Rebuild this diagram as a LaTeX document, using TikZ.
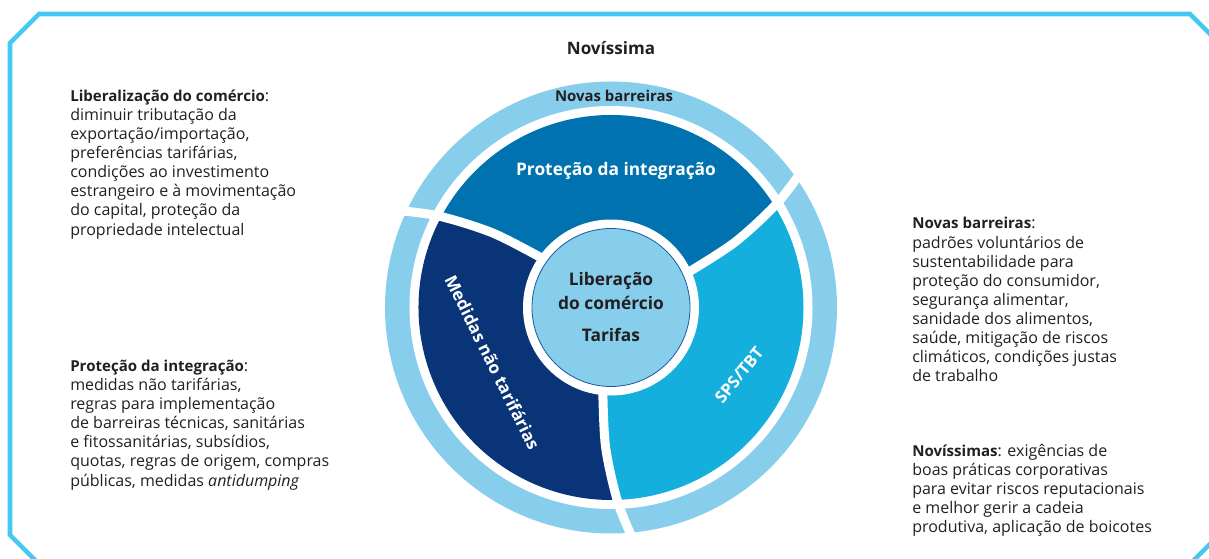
\documentclass[tikz,border=0pt]{standalone}
\usepackage{fontspec}
\setmainfont{Open Sans}
\usetikzlibrary{calc}
\definecolor{framec}{RGB}{68,200,242}
\definecolor{ringc}{RGB}{135,206,236}
\definecolor{protc}{RGB}{0,114,175}
\definecolor{medc}{RGB}{10,52,120}
\definecolor{spsc}{RGB}{20,175,221}
\definecolor{cenc}{RGB}{135,206,236}
\definecolor{cenb}{RGB}{20,90,160}
\definecolor{txt}{RGB}{35,31,32}
\newcommand\hdtext[1]{{\fontsize{11.3}{14.3}\selectfont\bfseries #1}}
\tikzset{
  body/.style={anchor=base west, align=left, inner sep=0pt, text=txt, font=\fontsize{12}{14.3}\selectfont},
  lab/.style={inner sep=0pt, font=\bfseries\fontsize{11}{13}\selectfont},
  gap/.style={white, line width=6.75pt, line join=round}
}
\begin{document}
\begin{tikzpicture}[x=0.75pt,y=0.75pt]
\useasboundingbox (0,0) rectangle (1209,558);
\clip (0,0) rectangle (1209,558);
% frame
\draw[framec, line width=3.4pt, line join=miter]
  (10,515) -- (39,544) -- (1190,544) -- (1219,515) -- (1219,23) -- (1190,-6) -- (39,-6) -- (10,23) -- cycle;
% wheel
\begin{scope}[shift={(611,250.5)}]
  \fill[ringc] (0,0) circle (226);
  \fill[white] (0,0) circle (201.5);
  \fill[protc] (0,0) -- (24:80) -- (27.8:140) -- (31.4:192.5) arc[start angle=31.4, end angle=151.4, radius=192.5] -- (147.8:140) -- (144:80) -- cycle;
  \fill[medc] (0,0) -- (144:80) -- (147.8:140) -- (151.4:192.5) arc[start angle=151.4, end angle=271.4, radius=192.5] -- (267.8:140) -- (264:80) -- cycle;
  \fill[spsc] (0,0) -- (264:80) -- (267.8:140) -- (271.4:192.5) arc[start angle=271.4, end angle=391.4, radius=192.5] -- (387.8:140) -- (384:80) -- cycle;
  \foreach \a in {0,120,240}{
    \draw[gap] plot[smooth] coordinates {(\a+23.5:70) (\a+24:80) (\a+27.8:140) (\a+32.1:196) (\a+36:240)};
  }
  \fill[white] (0,0) circle (88);
  \filldraw[fill=cenc, draw=cenb, line width=0.6pt] (0,0) circle (79);
\end{scope}
% labels in the wheel
\node[lab, text=txt, font=\bfseries\fontsize{12.8}{15}\selectfont] (novissima) at (611,510) {Novíssima};
\node[lab, text=txt, font=\bfseries\fontsize{11.2}{13}\selectfont] (novas) at (614,462) {Novas barreiras};
\node[lab, text=white, font=\bfseries\fontsize{13}{15}\selectfont] (prot) at (616,387) {Proteção da integração};
\node[lab, text=txt, font=\bfseries\fontsize{13}{16}\selectfont] (lib1) at (611,277) {Liberação};
\node[lab, text=txt, font=\bfseries\fontsize{13}{16}\selectfont] (lib2) at (611,255) {do comércio};
\node[lab, text=txt, font=\bfseries\fontsize{13}{16}\selectfont] (tar) at (611,223) {Tarifas};
\node[lab, text=white, rotate=-63.7, font=\bfseries\fontsize{12.8}{15}\selectfont] (med) at (492.5,195.5) {Medidas não tarifárias};
\node[lab, text=white, rotate=50.8, font=\bfseries\fontsize{12.5}{15}\selectfont] (sps) at (739,183) {SPS/TBT};
% side texts (anchored at the baseline of their last line)
\node[body] (t1) at (70,323) {\hdtext{Liberalização do comércio}:\\diminuir tributação da\\exportação/importação,\\preferências tarifárias,\\condições ao investimento\\estrangeiro e à movimentação\\do capital, proteção da\\propriedade intelectual};
\node[body] (t2) at (70,72) {\hdtext{Proteção da integração}:\\medidas não tarifárias,\\regras para implementação\\de barreiras técnicas, sanitárias\\e fitossanitárias, subsídios,\\quotas, regras de origem, compras\\públicas, medidas \textit{antidumping}};
\node[body] (t3) at (912,176.5) {\hdtext{Novas barreiras}:\\padrões voluntários de\\sustentabilidade para\\proteção do consumidor,\\segurança alimentar,\\sanidade dos alimentos,\\saúde, mitigação de riscos\\climáticos, condições justas\\de trabalho};
\node[body] (t4) at (912,25.5) {\hdtext{Novíssimas}: exigências de\\boas práticas corporativas\\para evitar riscos reputacionais\\e melhor gerir a cadeia\\produtiva, aplicação de boicotes};
\end{tikzpicture}
\end{document}
